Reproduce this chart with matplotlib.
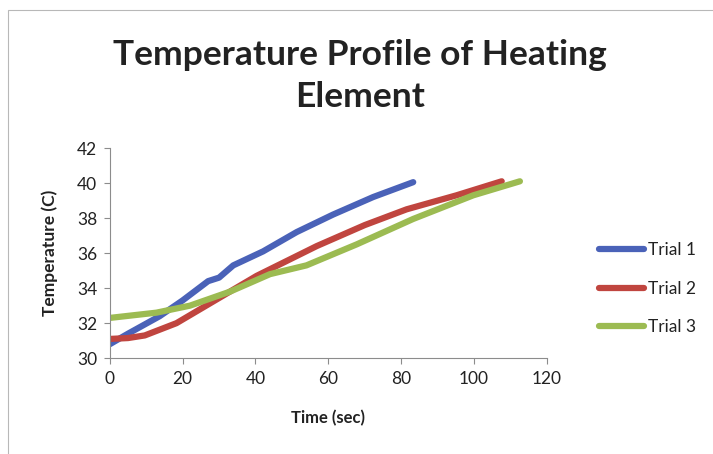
import matplotlib
import matplotlib.pyplot as plt
from matplotlib.patches import Rectangle

matplotlib.use("agg")
plt.rcParams["font.family"] = ["Lato", "DejaVu Sans"]

# Values
trial1_time = [0, 5, 13.7, 20, 27, 30, 33.9, 42.1, 51.3, 61.3, 72.3, 83.3]
trial1_temp = [30.8, 31.4, 32.4, 33.3, 34.4, 34.6, 35.3, 36.1, 37.2, 38.2, 39.2, 40.05]

trial2_time = [0, 5, 9.6, 18.3, 29.3, 40.3, 56.8, 70, 81.5, 95.2, 107.6]
trial2_temp = [31.1, 31.15, 31.3, 32.0, 33.35, 34.7, 36.4, 37.6, 38.5, 39.3, 40.1]

trial3_time = [0, 12.8, 22, 33, 44, 54, 67.8, 83.3, 99.8, 112.6]
trial3_temp = [32.3, 32.6, 33.0, 33.8, 34.8, 35.3, 36.5, 37.95, 39.3, 40.1]

series_names = ["Trial 1", "Trial 2", "Trial 3"]
series_colors = ["#4a62b8", "#c0453f", "#9cbb52"]

fig = plt.figure(figsize=(7.13, 4.54), dpi=100, facecolor="white")
ax = fig.add_axes([0.154, 0.211, 0.613, 0.463])

# Chart area border
fig.patches.append(Rectangle((0.011, -0.05), 1.2, 1.028, transform=fig.transFigure,
                             fill=False, edgecolor="#b8b8b8", linewidth=0.8))

data = [(trial1_time, trial1_temp), (trial2_time, trial2_temp), (trial3_time, trial3_temp)]
for (t, T), name, c in zip(data, series_names, series_colors):
    ax.plot(t, T, color=c, linewidth=4.5, solid_capstyle="round", label=name)

ax.set_xlim(0, 120)
ax.set_ylim(30, 42)
ax.set_xticks(range(0, 121, 20))
ax.set_yticks(range(30, 43, 2))

for side in ["top", "right"]:
    ax.spines[side].set_visible(False)
for side in ["left", "bottom"]:
    ax.spines[side].set_color("#8c8c8c")
    ax.spines[side].set_linewidth(0.8)
ax.tick_params(colors="#8c8c8c", labelcolor="#222222", labelsize=12.5, length=4,
               direction="out", pad=5)

ax.set_xlabel("Time (sec)", fontsize=12, fontweight="bold", color="#222222", labelpad=17)
ax.set_ylabel("Temperature (C)", fontsize=12.5, fontweight="bold", color="#222222", labelpad=14)

fig.text(0.505, 0.833, "Temperature Profile of Heating\nElement", ha="center", va="center",
         fontsize=25.5, fontweight="bold", color="#222222", linespacing=1.4)

ax.legend(loc="center left", bbox_to_anchor=(1.083, 0.33), frameon=False, fontsize=12.5,
          handlelength=2.6, handletextpad=0.25, labelspacing=1.3, labelcolor="#222222")

fig.savefig("out.png", dpi=100)
